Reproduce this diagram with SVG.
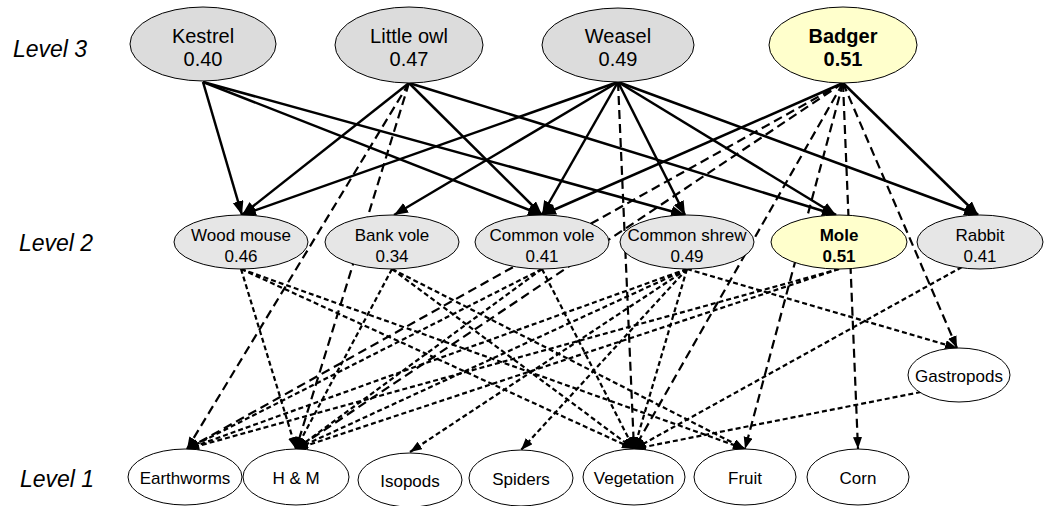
<svg xmlns="http://www.w3.org/2000/svg" width="1044" height="506" viewBox="0 0 1044 506">
  <defs>
    <marker id="headSolid" markerUnits="userSpaceOnUse" markerWidth="15" markerHeight="12" refX="14" refY="5.5" orient="auto">
      <path d="M0,0 L14,5.5 L0,11 Z" fill="#000"/>
    </marker>
    <marker id="headDash" markerUnits="userSpaceOnUse" markerWidth="13" markerHeight="10" refX="12" refY="4.5" orient="auto">
      <path d="M0,0 L12,4.5 L0,9 Z" fill="#000"/>
    </marker>
  </defs>
  <style>
    .bg { fill: #fff; }
    .lvl { font-family: "Liberation Sans", Arial, sans-serif; font-style: italic; font-size: 23px; fill: #000; }
    .node ellipse { stroke: #000; stroke-width: 1; }
    .top ellipse { fill: #dcdcdc; }
    .mid ellipse { fill: #e6e6e6; }
    .low ellipse { fill: #fff; }
    .hl ellipse { fill: #ffffcc; }
    .node text { font-family: "Liberation Sans", Arial, sans-serif; fill: #000; text-anchor: middle; }
    .top text { font-size: 20px; }
    .mid text { font-size: 17px; }
    .low text { font-size: 17px; }
    .hl text { font-weight: bold; }
    .solid { stroke: #000; stroke-width: 2.5; fill: none; marker-end: url(#headSolid); }
    .long { stroke: #000; stroke-width: 2.2; fill: none; stroke-dasharray: 9 5; marker-end: url(#headDash); }
    .short { stroke: #000; stroke-width: 2.2; fill: none; stroke-dasharray: 5 3; marker-end: url(#headDash); }
  </style>

  <rect class="bg" x="0" y="0" width="1044" height="506"/>

  <!-- level labels -->
  <g id="levels">
    <text class="lvl" x="13" y="57">Level 3</text>
    <text class="lvl" x="19" y="251">Level 2</text>
    <text class="lvl" x="20" y="487">Level 1</text>
  </g>

  <!-- trophic links -->
  <g id="connectors">
    <!-- predators to small mammals -->
    <line class="solid" x1="203" y1="82" x2="242" y2="215"/>
    <line class="solid" x1="203" y1="82" x2="542" y2="215"/>
    <line class="solid" x1="203" y1="82" x2="685" y2="215"/>
    <line class="solid" x1="409" y1="83" x2="242" y2="215"/>
    <line class="solid" x1="409" y1="83" x2="542" y2="215"/>
    <line class="solid" x1="409" y1="83" x2="836" y2="215"/>
    <line class="solid" x1="618" y1="82" x2="242" y2="215"/>
    <line class="solid" x1="618" y1="82" x2="394" y2="215"/>
    <line class="solid" x1="618" y1="82" x2="542" y2="215"/>
    <line class="solid" x1="618" y1="82" x2="685" y2="215"/>
    <line class="solid" x1="618" y1="82" x2="836" y2="215"/>
    <line class="solid" x1="618" y1="82" x2="978" y2="215"/>
    <line class="solid" x1="843" y1="83" x2="542" y2="215"/>
    <line class="solid" x1="843" y1="83" x2="978" y2="215"/>

    <!-- predators to level 1 -->
    <line class="long" x1="409" y1="83" x2="187" y2="449"/>
    <line class="long" x1="409" y1="83" x2="296" y2="449"/>
    <line class="long" x1="618" y1="82" x2="634" y2="449"/>
    <line class="long" x1="843" y1="83" x2="187" y2="449"/>
    <line class="long" x1="843" y1="83" x2="296" y2="449"/>
    <line class="long" x1="843" y1="83" x2="634" y2="449"/>
    <line class="long" x1="843" y1="83" x2="745" y2="449"/>
    <line class="long" x1="843" y1="83" x2="858" y2="449"/>
    <line class="long" x1="843" y1="83" x2="957" y2="348"/>

    <!-- small mammals to level 1 -->
    <line class="short" x1="241" y1="269" x2="296" y2="449"/>
    <line class="short" x1="241" y1="269" x2="634" y2="449"/>
    <line class="short" x1="241" y1="269" x2="745" y2="449"/>
    <line class="short" x1="392" y1="269" x2="296" y2="449"/>
    <line class="short" x1="392" y1="269" x2="634" y2="449"/>
    <line class="short" x1="392" y1="269" x2="745" y2="449"/>
    <line class="short" x1="542" y1="269" x2="187" y2="449"/>
    <line class="short" x1="542" y1="269" x2="296" y2="449"/>
    <line class="short" x1="542" y1="269" x2="634" y2="449"/>
    <line class="short" x1="687" y1="269" x2="187" y2="449"/>
    <line class="short" x1="687" y1="269" x2="296" y2="449"/>
    <line class="short" x1="687" y1="269" x2="410" y2="452"/>
    <line class="short" x1="687" y1="269" x2="521" y2="450"/>
    <line class="short" x1="687" y1="269" x2="634" y2="449"/>
    <line class="short" x1="687" y1="269" x2="957" y2="348"/>
    <line class="short" x1="839" y1="269" x2="187" y2="449"/>
    <line class="short" x1="839" y1="269" x2="296" y2="449"/>
    <line class="short" x1="962" y1="267" x2="634" y2="449"/>
    <line class="short" x1="921" y1="392" x2="634" y2="449"/>
  </g>

  <!-- level 3 -->
  <g id="kestrel" class="node top">
    <ellipse cx="203" cy="44" rx="73" ry="37"/>
    <text x="203" y="43">Kestrel</text>
    <text x="203" y="66">0.40</text>
  </g>
  <g id="little-owl" class="node top">
    <ellipse cx="409" cy="45" rx="74" ry="38"/>
    <text x="409" y="43">Little owl</text>
    <text x="409" y="66">0.47</text>
  </g>
  <g id="weasel" class="node top">
    <ellipse cx="618" cy="45" rx="76" ry="37"/>
    <text x="618" y="43">Weasel</text>
    <text x="618" y="66">0.49</text>
  </g>
  <g id="badger" class="node top hl">
    <ellipse cx="843" cy="45" rx="74" ry="38"/>
    <text x="843" y="43">Badger</text>
    <text x="843" y="66">0.51</text>
  </g>

  <!-- level 2 -->
  <g id="wood-mouse" class="node mid">
    <ellipse cx="241" cy="242" rx="67" ry="27"/>
    <text x="241" y="241">Wood mouse</text>
    <text x="241" y="262">0.46</text>
  </g>
  <g id="bank-vole" class="node mid">
    <ellipse cx="392" cy="242" rx="67" ry="27"/>
    <text x="392" y="241">Bank vole</text>
    <text x="392" y="262">0.34</text>
  </g>
  <g id="common-vole" class="node mid">
    <ellipse cx="542" cy="242" rx="67" ry="27"/>
    <text x="542" y="241">Common vole</text>
    <text x="542" y="262">0.41</text>
  </g>
  <g id="common-shrew" class="node mid">
    <ellipse cx="687" cy="242" rx="67" ry="27"/>
    <text x="687" y="241">Common shrew</text>
    <text x="687" y="262">0.49</text>
  </g>
  <g id="mole" class="node mid hl">
    <ellipse cx="839" cy="242" rx="68" ry="27"/>
    <text x="839" y="241">Mole</text>
    <text x="839" y="262">0.51</text>
  </g>
  <g id="rabbit" class="node mid">
    <ellipse cx="980" cy="242" rx="63" ry="27"/>
    <text x="980" y="241">Rabbit</text>
    <text x="980" y="262">0.41</text>
  </g>

  <!-- level 1 -->
  <g id="gastropods" class="node low">
    <ellipse cx="959" cy="375" rx="51" ry="27"/>
    <text x="959" y="382">Gastropods</text>
  </g>
  <g id="earthworms" class="node low">
    <ellipse cx="185" cy="477" rx="57" ry="28"/>
    <text x="185" y="484">Earthworms</text>
  </g>
  <g id="h-and-m" class="node low">
    <ellipse cx="296" cy="477" rx="53" ry="28"/>
    <text x="296" y="484">H &amp; M</text>
  </g>
  <g id="isopods" class="node low">
    <ellipse cx="410" cy="480" rx="52" ry="27"/>
    <text x="410" y="487">Isopods</text>
  </g>
  <g id="spiders" class="node low">
    <ellipse cx="521" cy="478" rx="52" ry="28"/>
    <text x="521" y="485">Spiders</text>
  </g>
  <g id="vegetation" class="node low">
    <ellipse cx="634" cy="477" rx="51" ry="28"/>
    <text x="634" y="484">Vegetation</text>
  </g>
  <g id="fruit" class="node low">
    <ellipse cx="745" cy="477" rx="51" ry="28"/>
    <text x="745" y="484">Fruit</text>
  </g>
  <g id="corn" class="node low">
    <ellipse cx="858" cy="477" rx="51" ry="28"/>
    <text x="858" y="484">Corn</text>
  </g>
</svg>
